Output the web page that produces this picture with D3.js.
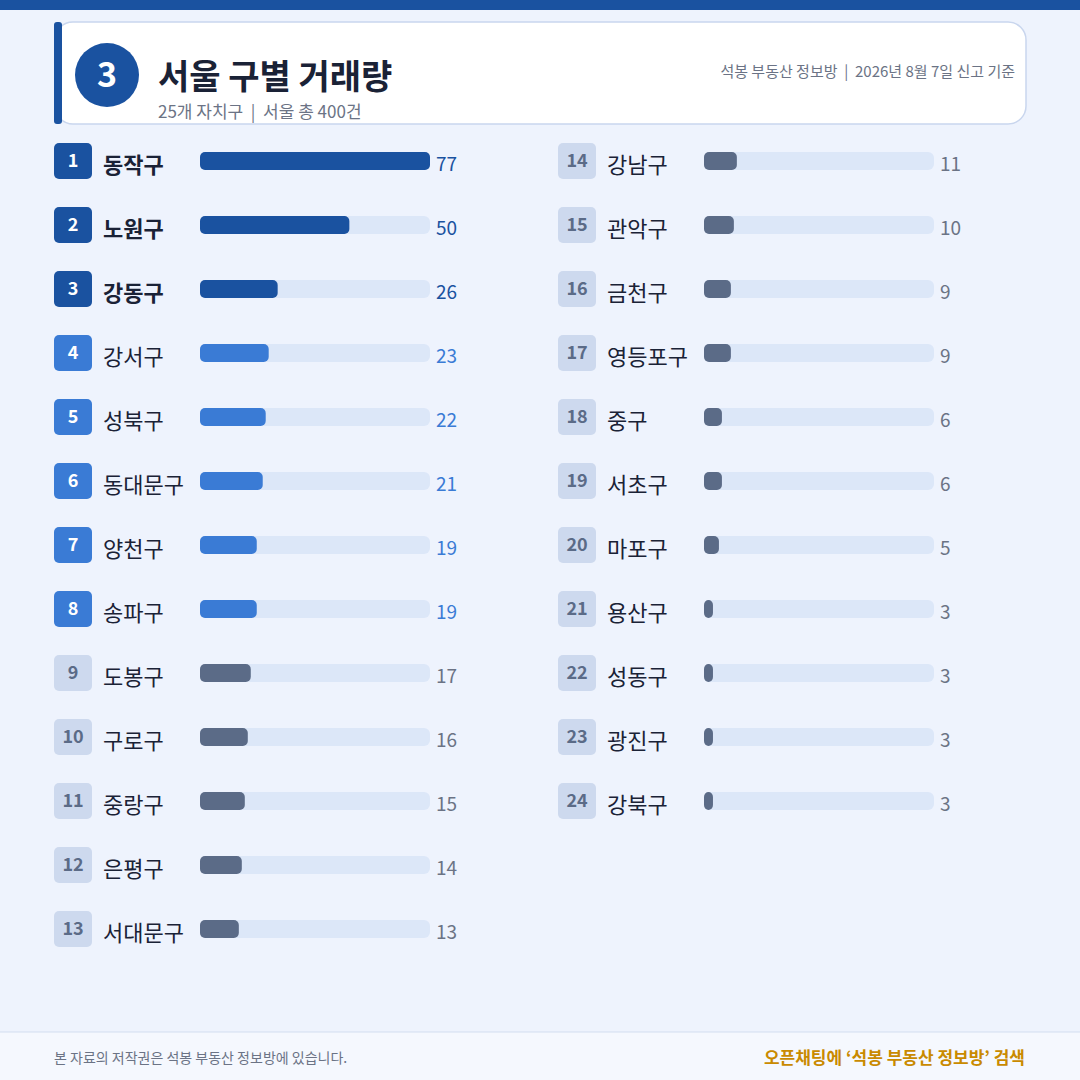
<!DOCTYPE html>
<html><head><meta charset="utf-8">
<script src="https://cdn.jsdelivr.net/npm/d3@7"></script>
<style>body{margin:0;background:#eef3fd}svg{display:block}text{font-family:"Noto Sans CJK KR","Noto Sans",sans-serif;white-space:pre}</style>
</head><body><svg id="c" width="1080" height="1080"></svg>
<script>
const districts = ["동작구","노원구","강동구","강서구","성북구","동대문구","양천구","송파구","도봉구","구로구","중랑구","은평구","서대문구","강남구","관악구","금천구","영등포구","중구","서초구","마포구","용산구","성동구","광진구","강북구"];
const counts = [77,50,26,23,22,21,19,19,17,16,15,14,13,11,10,9,9,6,6,5,3,3,3,3];
const title = "서울 구별 거래량";
const subtitle = "25개 자치구  |  서울 총 400건";
const source = "석봉 부동산 정보방  |  2026년 8월 7일 신고 기준";

const svg = d3.select("#c");
svg.append("rect").attr("width",1080).attr("height",1080).attr("fill","#eef3fd");
svg.append("rect").attr("width",1080).attr("height",10).attr("fill","#1a52a0");
svg.append("rect").attr("x",55).attr("y",22).attr("width",971).attr("height",102).attr("rx",18).attr("fill","#fff").attr("stroke","#c9d6ee").attr("stroke-width",1.5);
svg.append("rect").attr("x",54).attr("y",22).attr("width",8).attr("height",102).attr("rx",3).attr("fill","#1a52a0");
svg.append("circle").attr("cx",107).attr("cy",75).attr("r",32).attr("fill","#1a52a0");
svg.append("text").attr("x",107).attr("y",87).attr("text-anchor","middle").attr("fill","#fff").attr("font-size",34).attr("font-weight",700).text("3");
svg.append("text").attr("x",158).attr("y",89).attr("fill","#1a2236").attr("font-size",34).attr("font-weight",700).text(title);
svg.append("text").attr("x",158).attr("y",118).attr("fill","#6b7385").attr("font-size",17).text(subtitle);
svg.append("text").attr("x",1015).attr("y",77).attr("text-anchor","end").attr("fill","#6b7385").attr("font-size",15).text(source);

const x = d3.scaleLinear().domain([0,77]).range([0,230]);
const rows = districts.map((d,i)=>({name:d,v:counts[i],rank:i+1,col:i<13?0:1,row:i<13?i:i-13}));
const colX = [54,558];
function tier(r){return r<=3?0:r<=8?1:2;}
const barCol=["#1a52a0","#3a7bd5","#5b6b87"];
const boxCol=["#1a52a0","#3a7bd5","#cdd9ee"];
const boxTxt=["#fff","#fff","#5b6b87"];
const valCol=["#1a52a0","#3a7bd5","#6b7385"];
const g = svg.selectAll("g.row").data(rows).join("g").attr("transform",d=>`translate(${colX[d.col]},${161+d.row*64})`);
g.append("rect").attr("x",0).attr("y",-18).attr("width",38).attr("height",36).attr("rx",5).attr("fill",d=>boxCol[tier(d.rank)]);
g.append("text").attr("x",19).attr("y",6).attr("text-anchor","middle").attr("font-size",18).attr("font-weight",700).attr("fill",d=>boxTxt[tier(d.rank)]).text(d=>d.rank);
g.append("text").attr("x",49).attr("y",12).attr("font-size",22).attr("font-weight",d=>d.rank<=3?700:400).attr("fill","#1a2236").text(d=>d.name);
g.append("rect").attr("x",146).attr("y",-9).attr("width",230).attr("height",18).attr("rx",6).attr("fill","#dce7f8");
g.append("rect").attr("x",146).attr("y",-9).attr("width",d=>x(d.v)).attr("height",18).attr("rx",5).attr("fill",d=>barCol[tier(d.rank)]);
g.append("text").attr("x",382).attr("y",10).attr("font-size",19).attr("fill",d=>valCol[tier(d.rank)]).text(d=>d.v);

svg.append("rect").attr("x",0).attr("y",1032).attr("width",1080).attr("height",48).attr("fill","#f5f8fe");
svg.append("line").attr("x1",0).attr("x2",1080).attr("y1",1032).attr("y2",1032).attr("stroke","#d3ddef");
svg.append("text").attr("x",54).attr("y",1063).attr("font-size",14).attr("fill","#6b7385").text("본 자료의 저작권은 석봉 부동산 정보방에 있습니다.");
svg.append("text").attr("x",1025).attr("y",1064).attr("text-anchor","end").attr("font-size",17).attr("font-weight",700).attr("fill","#c98a00").text("오픈채팅에 ‘석봉 부동산 정보방’ 검색");
</script></body></html>
